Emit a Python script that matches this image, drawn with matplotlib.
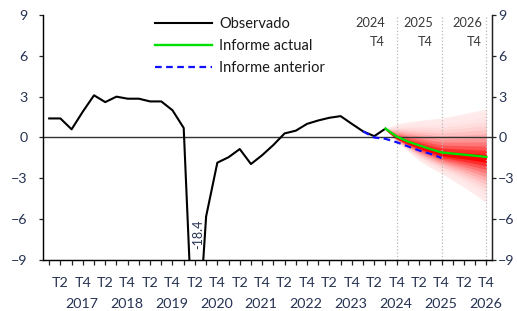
import numpy as np
import matplotlib
matplotlib.use('Agg')
import matplotlib.pyplot as plt
from matplotlib.colors import to_rgb

plt.rcParams['font.family'] = ['Lato', 'DejaVu Sans']

# Data (quarterly, 2017 T1 .. 2026 T4)
years = [2017, 2018, 2019, 2020, 2021, 2022, 2023, 2024, 2025, 2026]
quarters = ['T1', 'T2', 'T3', 'T4']

observado = [1.4, 1.4, 0.6, 1.9, 3.1, 2.6, 3.0, 2.85, 2.85, 2.65,
             2.65, 2.0, 0.7, -18.4, -5.8, -1.85, -1.45, -0.85, -1.95, -1.3,
             -0.55, 0.3, 0.5, 1.0, 1.25, 1.45, 1.57, 1.0, 0.45, 0.1, 0.65]

actual_start = 30
informe_actual = [0.65, 0.07, -0.3, -0.58, -0.85, -1.1, -1.18, -1.26, -1.34, -1.43]

anterior_start = 28
informe_anterior = [0.45, 0.0, -0.1, -0.35, -0.65, -0.95, -1.2, -1.5]

# outer limits of the fan (same quarters as informe_actual)
fan_upper = [0.65, 1.0, 1.15, 1.25, 1.35, 1.42, 1.58, 1.74, 1.92, 2.1]
fan_lower = [0.65, -0.35, -1.0, -1.7, -2.2, -2.65, -3.15, -3.65, -4.2, -4.8]

min_label = '-18.4'
n = len(years) * 4
x = np.arange(n)

fig = plt.figure(figsize=(5.17, 3.11), dpi=100)
ax = fig.add_axes([0.0832, 0.164, 0.8684, 0.7878])

tick_col = '#263352'

# fan chart
xa = x[actual_start:actual_start + len(informe_actual)]
c = np.array(informe_actual) - 0.12
up = np.array(fan_upper)
lo = np.array(fan_lower)
nb = 12
red = np.array(to_rgb('#ff0000'))
white = np.array([1, 1, 1])
for k in range(nb, 0, -1):
    f = k / nb
    shade = 0.08 + 0.92 * ((nb - k) / (nb - 1)) ** 2.2
    col = white + (red - white) * shade
    ax.fill_between(xa, c + f * (up - c), c - f * (c - lo),
                    color=col, lw=0, zorder=1)

# vertical markers at Q4 of forecast years
for yr in [2024, 2025, 2026]:
    xi = (yr - 2017) * 4 + 3
    ax.axvline(xi, color='#b8b8b8', ls=':', lw=0.9, zorder=2)

ax.axhline(0, color='#333333', lw=1.0, zorder=3)

ax.plot(x[:len(observado)], observado, color='black', lw=1.5, zorder=5, label='Observado')
ax.plot(xa, informe_actual, color='#00e000', lw=1.7, zorder=6, label='Informe actual')
ax.plot(x[anterior_start:anterior_start + len(informe_anterior)], informe_anterior,
        color='#1010ff', lw=1.6, ls=(0, (3, 2)), zorder=6, label='Informe anterior')

ax.set_xlim(-0.55, 39.5)
ax.set_ylim(-9, 9)
ax.set_yticks([-9, -6, -3, 0, 3, 6, 9])
ax.spines['top'].set_visible(False)
for s in ['left', 'right', 'bottom']:
    ax.spines[s].set_color('#222222')
    ax.spines[s].set_linewidth(1.0)

ax.set_xticks(x)
ax.set_xticklabels([quarters[i % 4] if i % 2 == 1 else '' for i in x])
ax.tick_params(axis='x', length=3.5, width=0.9, pad=9, labelsize=10.3,
               labelcolor=tick_col, color='#222222')
ax.tick_params(axis='y', length=3, width=0.9, pad=8, labelsize=10.3,
               labelcolor=tick_col, color='#222222')

ax2 = ax.twinx()
ax2.set_ylim(-9, 9)
ax2.set_yticks([-9, -6, -3, 0, 3, 6, 9])
ax2.spines['top'].set_visible(False)
ax2.spines['right'].set_color('#222222')
ax2.tick_params(axis='y', length=3, width=0.9, pad=1.5, labelsize=10.3,
                labelcolor=tick_col, color='#222222')

for i, yr in enumerate(years):
    ax.text(i * 4 + 2.9, -0.18, str(yr), transform=ax.get_xaxis_transform(),
            ha='center', va='center', fontsize=10.3, color=tick_col)

# labels above the forecast markers
for xr, yr in [(29.95, 2024), (34.25, 2025), (38.6, 2026)]:
    ax.text(xr, 0.967, str(yr), transform=ax.get_xaxis_transform(),
            ha='right', va='center', fontsize=9.2, color='#3a3a3a')
    ax.text(xr, 0.89, 'T4', transform=ax.get_xaxis_transform(),
            ha='right', va='center', fontsize=9.2, color='#3a3a3a')

ax.text(13.28, -7.1, min_label, rotation=90, ha='center', va='center',
        fontsize=9, color=tick_col, zorder=7)

leg = ax.legend(loc='upper left', bbox_to_anchor=(0.249, 0.99), frameon=False,
                fontsize=10.5, handlelength=3.9, handletextpad=0.5,
                labelspacing=0.55, borderpad=0, borderaxespad=0)
for t in leg.get_texts():
    t.set_color('#1a1a1a')

fig.savefig('out.png', dpi=100)
